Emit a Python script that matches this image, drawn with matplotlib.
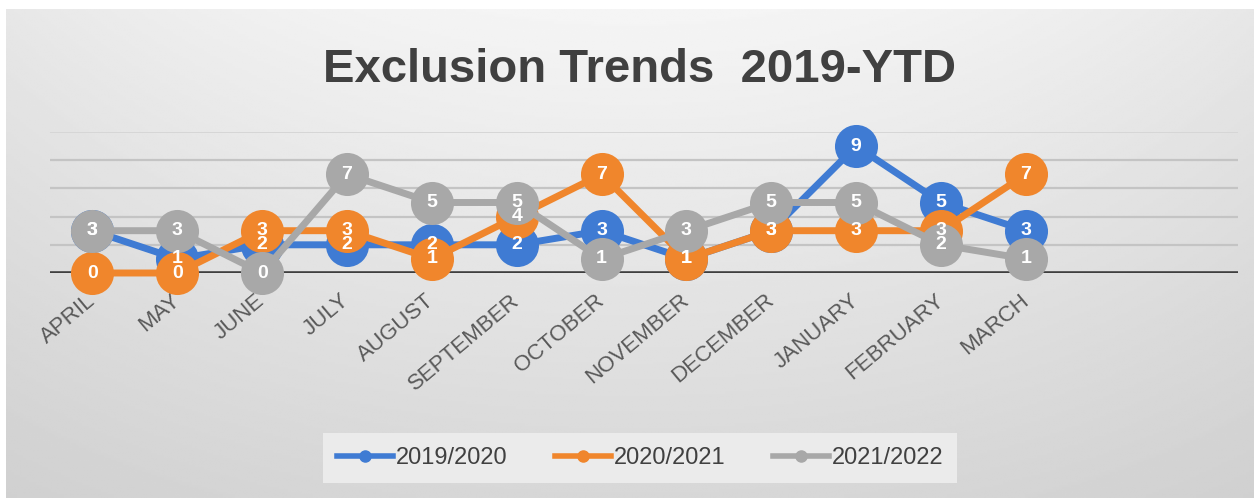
import matplotlib.pyplot as plt
import numpy as np
from matplotlib.lines import Line2D

plt.rcParams["font.family"] = ["Liberation Sans", "DejaVu Sans"]

months = ["APRIL", "MAY", "JUNE", "JULY", "AUGUST", "SEPTEMBER", "OCTOBER",
          "NOVEMBER", "DECEMBER", "JANUARY", "FEBRUARY", "MARCH"]
fy_2019_2020 = [3, 1, 2, 2, 2, 2, 3, 1, 3, 9, 5, 3]
fy_2020_2021 = [0, 0, 3, 3, 1, 4, 7, 1, 3, 3, 3, 7]
fy_2021_2022 = [3, 3, 0, 7, 5, 5, 1, 3, 5, 5, 2, 1]
series_names = ["2019/2020", "2020/2021", "2021/2022"]
series_colors = ["#3f7bd3", "#f0862c", "#a8a8a8"]

W, H = 1254, 498
fig = plt.figure(figsize=(W / 100, H / 100), dpi=100, facecolor="white")

# soft grey backdrop, lightest near the top centre
bg = fig.add_axes([6 / W, 0, 1 - 6 / W, (H - 9) / H], zorder=0)
yy, xx = np.mgrid[0:1:200j, 0:1:400j]
shade = 245 - 30 * yy - 14 * ((xx - 0.5) * 2) ** 2 * (1 - 0.5 * yy)
bg.imshow(shade / 255.0, cmap="gray", vmin=0, vmax=1, aspect="auto",
          extent=(0, 1, 0, 1), origin="upper")
bg.axis("off")

ax = fig.add_axes([50 / W, 225 / H, 1188 / W, 141 / H], zorder=1)
ax.patch.set_alpha(0)
ax.set_xlim(-0.5, 13.5)
ax.set_ylim(0, 10)
for s in ax.spines.values():
    s.set_visible(False)

for g in [2, 4, 6, 8]:
    ax.axhline(g, color="#c4c4c4", lw=1.6, zorder=1)
ax.axhline(10, color="#d6d6d6", lw=1.4, zorder=1)
ax.axhline(0, color="#3f3f3f", lw=2.6, zorder=2)

x = np.arange(len(months))
all_series = [fy_2019_2020, fy_2020_2021, fy_2021_2022]
for i, (vals, col) in enumerate(zip(all_series, series_colors)):
    ax.plot(x, vals, color=col, lw=5, marker="o", ms=31, mec=col, mew=0,
            clip_on=False, zorder=3 + i, solid_capstyle="round")

for vals in all_series:
    for xi, v in zip(x, vals):
        ax.text(xi, v, str(v), ha="center", va="center", color="white",
                fontsize=14, fontweight="bold", zorder=10, clip_on=False)

ax.set_yticks([])
ax.set_xticks(x)
ax.set_xticklabels(months, rotation=40, ha="right", va="center",
                   rotation_mode="anchor", fontsize=16, color="#595959")
ax.tick_params(axis="x", length=0, pad=18)

fig.text(639 / W, 1 - 70 / H, "Exclusion Trends  2019-YTD", ha="center",
         va="center", fontsize=34, fontweight="bold", color="#404040")

handles = [Line2D([0], [0], color=c, lw=4, marker="o", ms=8) for c in series_colors]
leg = fig.legend(handles, series_names, loc="center",
                 bbox_to_anchor=(640 / W, 1 - 458 / H), ncol=3, fontsize=17,
                 frameon=True, facecolor="#ebebeb", edgecolor="none",
                 fancybox=False, handlelength=2.4, handletextpad=0.1,
                 columnspacing=2.0, borderpad=0.6, labelcolor="#404040")
leg.get_frame().set_alpha(1)

fig.savefig("out.png", dpi=100, facecolor=fig.get_facecolor())
